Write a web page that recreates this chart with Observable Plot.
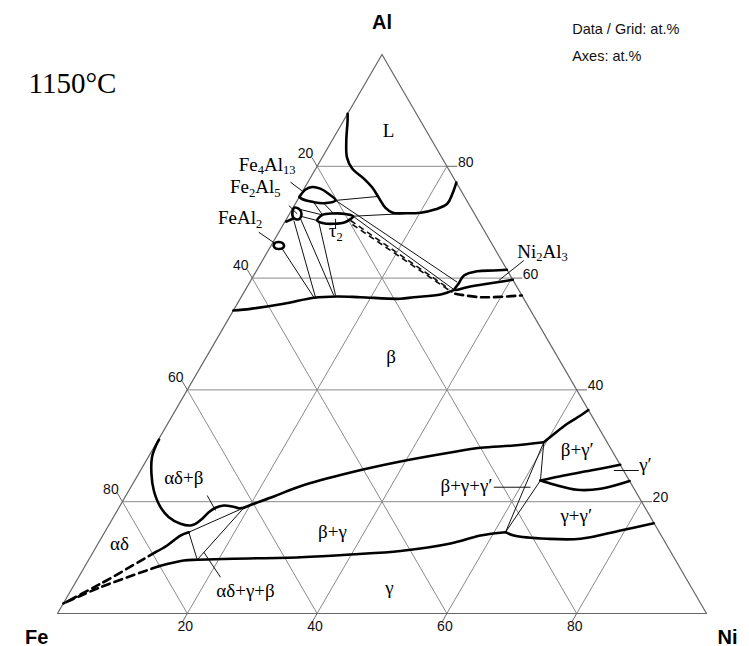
<!DOCTYPE html>
<html><head><meta charset="utf-8">
<script src="https://cdn.jsdelivr.net/npm/d3@7"></script>
<script src="https://cdn.jsdelivr.net/npm/@observablehq/plot@0.6"></script>
<style>body{margin:0;background:#fff} #chart svg{display:block}</style>
</head><body><div id="chart"></div>
<script>
// All compositions are [Ni at.%, Al at.%]; Fe = 100 - Ni - Al
const ticks = [20, 40, 60, 80];
const liquidus = [[0,89.4],[0.6,88.2],[2.2,84.6],[3.8,81.6],[5.6,79.6],[8.3,77.8],[10.4,76.2],[12.3,74.4],[14.2,72.6],[15.8,71.7],[17.8,71.6],[20.1,71.7],[22.1,72.3],[23.4,73.3],[23.3,75.1],[22.9,77.1]];
const fe4al13 = [[0,74.5],[0.3,75.85],[1.1,76.3],[2.5,76.0],[4.2,75.1],[5.9,73.9],[4.3,73.4],[2.65,73.6],[0.5,74.2],[0,74.5]];
const fe2al5 = [[0.2,72.6],[1.14,72.3],[1.9,71.4],[1.9,70.5],[0.96,70.8],[0.26,71.9]];
const feal2 = [[0.31,66.1],[0.82,66.46],[1.77,66.1],[2.08,65.47],[1.45,65.2],[0.7,65.47]];
const tau2 = [[4.87,70.3],[5.18,71.3],[6.75,71.56],[8.65,71.47],[10.0,71.07],[9.36,70.04],[7.67,69.71],[5.9,69.86]];
const ni2al3 = [[38.5,61.5],[36.55,61.36],[34.05,61.23],[32.4,60.47],[32.3,59.03],[32.2,57.9],[33.94,58.37],[36.72,58.98],[39.05,59.45],[40.3,59.7]];
const betaTop = [[0,54.2],[2.5,54.5],[7.17,55.4],[11.25,56.48],[14.75,56.71],[18.4,56.58],[24.7,56.3],[26.6,56.58],[30.5,57.07],[32.2,57.9]];
const betaTopDashed = [[32.7,57.19],[36.9,56.58],[43.1,56.9]];
const fe2al5FeAl2 = [[0.2,70.1],[1.0,70.66]];
const alphaDeltaBeta = [[0.1,31.1],[0.15,30.05],[0.58,27.96],[1.98,24.99],[3.84,22.0],[6.36,19.02],[8.54,17.23],[10.93,16.05],[12.62,15.74],[13.24,16.05],[13.83,16.94],[14.25,18.12],[14.9,18.91],[15.96,19.32],[17.35,19.14],[18.52,18.84],[19.26,18.91]];
const betaGamma = [[19.26,18.91],[20.44,19.62],[22.86,20.93],[26.05,22.77],[32.54,25.22],[39.25,27.19],[46.15,28.8],[50.36,29.64],[55.28,30.05],[59.61,30.64]];
const betaGammaP = [[59.61,30.64],[60.3,31.84],[61.57,33.94],[62.88,35.42],[63.6,36.4]];
const gpUpper = [[62.52,23.79],[65.67,24.69],[69.34,25.58],[73.4,26.6]];
const gpLower = [[62.52,23.79],[64.93,23.08],[69.01,22.13],[72.51,22.31],[76.3,23.7]];
const gammaLow = [[11.38,8.46],[14.72,9.48],[16.73,9.61],[22.27,9.79],[32.4,10.07],[39.87,10.55],[47.26,11.18],[54.29,12.52],[58.2,13.95],[61.76,14.54]];
const gammaGp = [[61.76,14.54],[63.33,13.95],[68.77,13.36],[73.91,13.36],[79.33,14.85],[83.8,16.15]];
const alphaDelta = [[12.96,14.54],[11.97,13.95],[10.82,12.16],[9.62,10.97]];
const alphaDeltaDashed1 = [[9.62,10.97],[3.97,5.31],[0,1.8]];
const alphaDeltaDashed2 = [[11.38,8.46],[4.28,4.7],[0,1.8]];
const tieLines = [
  [[5.9,73.9],[12.0,74.6]], [[10.0,71.07],[17.1,71.5]],
  [[5.9,73.9],[31.95,59.27]], [[10.0,71.07],[32.2,57.9]],
  [[1.3,72.27],[5.18,71.3]], [[2.09,71.02],[4.87,70.3]],
  [[2.65,73.6],[5.18,71.3]], [[4.3,73.4],[6.75,71.56]],
  [[1.26,70.3],[11.46,56.58]], [[2.14,70.61],[14.13,56.89]], [[5.26,70.0],[14.4,56.89]], [[2.0,65.24],[11.2,56.58]],
  [[12.96,14.54],[19.26,18.91]], [[12.96,14.54],[16.73,9.61]], [[16.73,9.61],[19.26,18.91]],
  [[59.61,30.64],[62.52,23.79]], [[59.61,30.64],[61.76,14.54]], [[62.52,23.79],[61.76,14.54]]
];
const dashedTies = [[[10.0,70.3],[31.37,58.05]], [[10.65,69.59],[32.15,57.42]]];
const leaders = [
  [[-2.68,77.16],[0.27,75.37]], [[-0.85,72.99],[1.18,71.5]], [[-3.09,68.21],[0.52,66.14]],
  [[7.54,70.61],[8.43,68.82]], [[40.28,63.15],[38.2,59.57]], [[72.93,25.58],[76.78,25.58]],
  [[55.93,22.59],[61.58,22.59]], [[12.51,21.11],[15.14,18.43]], [[21.87,6.49],[17.06,10.97]]
];
const labelText = ["L","β","β+γ","γ","αδ","αδ+β","αδ+γ+β","β+γ′","γ′","γ+γ′","τ_{2}","Ni_{2}Al_{3}","Fe_{4}Al_{13}","Fe_{2}Al_{5}","FeAl_{2}","β+γ+γ′"];
const labelNi   = [8.4, 28.95, 35.66, 49.46, 3.85, 7.86, 27.51, 65.95, 77.81, 71.77, 8.14, 39.01, -2.95, -3.24, -3.26, 56.12];
const labelAl   = [85.21, 44.9, 13.42, 3.4, 11.4, 23.2, 2.92, 28.26, 25.58, 16.33, 67.32, 63.63, 79.23, 75.19, 69.59, 21.82];
const labelAnchor = ["middle","middle","middle","middle","middle","middle","middle","middle","middle","middle","start","start","end","end","end","end"];

const labels = labelText.map((t, i) => ({t, ni: labelNi[i], al: labelAl[i], a: labelAnchor[i]}));
const X = d => d[0] + d[1] / 2, Y = d => d[1];
const seg = () => ({x1: d => X(d[0]), y1: d => Y(d[0]), x2: d => X(d[1]), y2: d => Y(d[1])});
const grid = ticks.flatMap(t => [[[0,t],[100-t,t]], [[t,0],[t,100-t]], [[100-t,0],[0,100-t]]]);
const tickSegs = ticks.flatMap(t => [[[100-t,t],[100-t+1.6,t]], [[0,100-t],[-1.55,100-t+1.55]], [[t,0],[t,-1.6]]]);
const serif = "Liberation Serif, Times New Roman, serif";
const sans = "Liberation Sans, Arial, Helvetica, sans-serif";
const thick = {x: X, y: Y, stroke: "#000", strokeWidth: 2.6, curve: "catmull-rom"};
const thickClosed = {...thick, curve: "catmull-rom-closed"};
const labelMark = anchor => Plot.text(labels.filter(d => d.a === anchor), {
  x: d => d.ni + d.al / 2, y: d => d.al, text: d => d.t, textAnchor: anchor, lineAnchor: "bottom",
  fontFamily: serif, fontSize: 19, fill: "#000"
});

const plot = Plot.plot({
  width: 749, height: 646, marginLeft: 57, marginRight: 43, marginTop: 54, marginBottom: 33,
  x: {domain: [0, 100], axis: null}, y: {domain: [0, 100], axis: null},
  style: {background: "#fff", overflow: "visible"},
  marks: [
    Plot.link(grid, {...seg(), stroke: "#8a8a8a", strokeWidth: 1}),
    Plot.line([[0,0],[100,0],[0,100],[0,0]], {x: X, y: Y, stroke: "#666", strokeWidth: 1.2}),
    Plot.link(tickSegs, {...seg(), stroke: "#666", strokeWidth: 1}),
    Plot.text(ticks, {x: t => t, y: 0, text: t => String(t), dx: -2, dy: 13, fontFamily: sans, fontSize: 14, fill: "#111"}),
    Plot.text(ticks, {x: t => 100 - t + t / 2, y: t => t, text: t => String(t), textAnchor: "start", dx: 11, dy: -4, fontFamily: sans, fontSize: 14, fill: "#111"}),
    Plot.text(ticks, {x: t => (100 - t) / 2, y: t => 100 - t, text: t => String(t), dx: -11.5, dy: -12.5, fontFamily: sans, fontSize: 14, fill: "#111"}),
    Plot.link(tieLines, {...seg(), stroke: "#111", strokeWidth: 1}),
    Plot.link(dashedTies, {...seg(), stroke: "#111", strokeWidth: 1.6, strokeDasharray: "6,4"}),
    Plot.link(leaders, {...seg(), stroke: "#111", strokeWidth: 1}),
    Plot.line(liquidus, thick),
    Plot.line(fe4al13, thick),
    Plot.line(fe2al5, thickClosed),
    Plot.line(feal2, thickClosed),
    Plot.line(tau2, thickClosed),
    Plot.line(ni2al3, thick),
    Plot.line(betaTop, thick),
    Plot.line(betaTopDashed, {...thick, strokeDasharray: "8,5"}),
    Plot.line(fe2al5FeAl2, thick),
    Plot.line(alphaDeltaBeta, thick),
    Plot.line(betaGamma, thick),
    Plot.line(betaGammaP, thick),
    Plot.line(gpUpper, thick),
    Plot.line(gpLower, thick),
    Plot.line(gammaLow, thick),
    Plot.line(gammaGp, thick),
    Plot.line(alphaDelta, thick),
    Plot.line(alphaDeltaDashed1, {...thick, strokeDasharray: "8,5"}),
    Plot.line(alphaDeltaDashed2, {...thick, strokeDasharray: "8,5"}),
    labelMark("middle"), labelMark("start"), labelMark("end"),
    Plot.text(["1150°C"], {frameAnchor: "top-left", text: d => d, textAnchor: "start", lineAnchor: "bottom", dx: -29, dy: 38, fontFamily: serif, fontSize: 29, fill: "#000"}),
    Plot.text(["Data / Grid: at.%"], {frameAnchor: "top-right", text: d => d, textAnchor: "start", lineAnchor: "bottom", dx: -134.3, dy: -20.5, fontFamily: sans, fontSize: 14.5, fill: "#111"}),
    Plot.text(["Axes: at.%"], {frameAnchor: "top-right", text: d => d, textAnchor: "start", lineAnchor: "bottom", dx: -134.3, dy: 6, fontFamily: sans, fontSize: 14.5, fill: "#111"}),
    Plot.text(["Al"], {frameAnchor: "top", text: d => d, lineAnchor: "bottom", dy: -26, fontFamily: sans, fontWeight: "bold", fontSize: 20, fill: "#000"}),
    Plot.text(["Fe"], {frameAnchor: "bottom-left", text: d => d, lineAnchor: "bottom", dx: -32.5, dy: 30, fontFamily: sans, fontWeight: "bold", fontSize: 20, fill: "#000"}),
    Plot.text(["Ni"], {frameAnchor: "bottom-right", text: d => d, lineAnchor: "bottom", dx: 31, dy: 30, fontFamily: sans, fontWeight: "bold", fontSize: 20, fill: "#000"})
  ]
});

// turn "_{..}" into real subscripts
d3.select(plot).selectAll("text").each(function () {
  const s = this.textContent;
  if (!s.includes("_{")) return;
  const parts = s.split(/(_\{[^}]*\})/).filter(p => p);
  this.textContent = "";
  let sub = false;
  for (const p of parts) {
    const ts = document.createElementNS("http://www.w3.org/2000/svg", "tspan");
    if (p.startsWith("_{")) {
      ts.textContent = p.slice(2, -1);
      ts.setAttribute("font-size", "12.5");
      ts.setAttribute("dy", "3.5");
      sub = true;
    } else {
      ts.textContent = p;
      if (sub) ts.setAttribute("dy", "-3.5");
      sub = false;
    }
    this.appendChild(ts);
  }
});
document.getElementById("chart").appendChild(plot);
</script>
</body></html>
